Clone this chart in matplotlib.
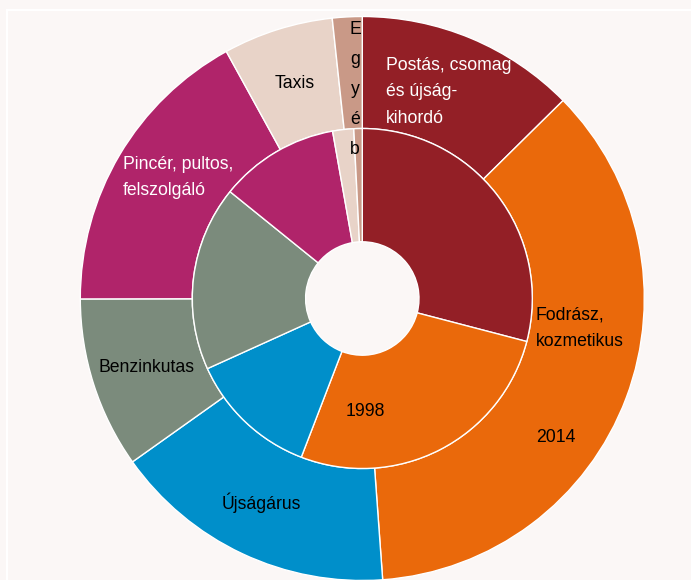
import matplotlib
matplotlib.use("Agg")
import matplotlib.pyplot as plt
from matplotlib.patches import Rectangle

categories = ["Postás, csomag és újság-kihordó", "Fodrász, kozmetikus", "Újságárus",
              "Benzinkutas", "Pincér, pultos, felszolgáló", "Taxis", "Egyéb"]
values_2014 = [12.6, 36.2, 16.3, 9.8, 17.0, 6.3, 1.7]
values_1998 = [29.1, 26.8, 12.4, 17.6, 11.4, 2.0, 0.8]
colors = ["#931f26", "#ea690b", "#008fca", "#7b8b7c", "#b0246a", "#e8d3c8", "#c99987"]
bg = "#fbf7f6"

W, H = 691, 580
fig = plt.figure(figsize=(W / 100, H / 100), dpi=100, facecolor=bg)
ax = fig.add_axes([0, 0, 1, 1])
ax.set_facecolor(bg)

cx, cy = 362.3, H - 298.5
R_out, R_mid, R_hole = 282, 170, 56.7

ax.add_patch(Rectangle((7, -10), W, H, fill=False, edgecolor="white", lw=1.5))

wp = dict(edgecolor="white", linewidth=1.0)
ax.pie(values_2014, colors=colors, radius=R_out, center=(cx, cy), startangle=90,
       counterclock=False, wedgeprops=dict(width=R_out - R_mid, **wp), frame=True)
ax.pie(values_1998, colors=colors, radius=R_mid, center=(cx, cy), startangle=90,
       counterclock=False, wedgeprops=dict(width=R_mid - R_hole, **wp), frame=True)
ax.set_xlim(0, W)
ax.set_ylim(0, H)
ax.set_aspect("equal")
ax.axis("off")

font = "Liberation Sans"
fs = 12.7

def t(x, y, s, color="black", ha="left", ls=1.75):
    ax.text(x, H - y, s, color=color, ha=ha, va="center", fontsize=fs,
            family=font, linespacing=ls)

t(386, 92, "Postás, csomag\nés újság-\nkihordó", color="white")
t(536, 328, "Fodrász,\nkozmetikus")
t(261, 503, "Újságárus", ha="center")
t(99, 368, "Benzinkutas")
t(123, 177.5, "Pincér, pultos,\nfelszolgáló", color="white")
t(295, 83, "Taxis", ha="center")
t(355, 89, "E\ng\ny\né\nb", ha="center", ls=2.0)
t(365, 412, "1998", ha="center")
t(556, 437, "2014", ha="center")

fig.savefig("out.png", dpi=100, facecolor=bg)
